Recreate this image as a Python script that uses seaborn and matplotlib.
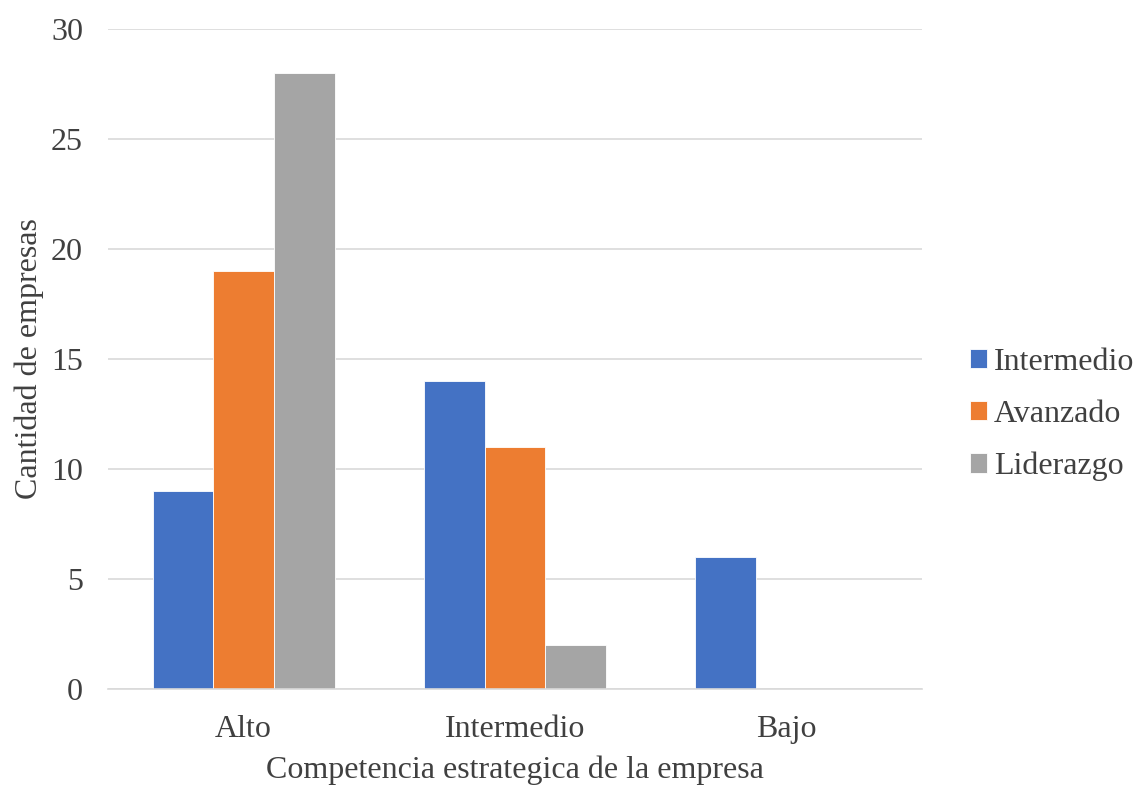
import pandas as pd
import matplotlib.pyplot as plt
import seaborn as sns

# Datos del gráfico
categorias = ["Alto", "Intermedio", "Bajo"]
series = ["Intermedio", "Avanzado", "Liderazgo"]
val_intermedio = [9, 14, 6]
val_avanzado = [19, 11, 0]
val_liderazgo = [28, 2, 0]
colores = ["#4472C4", "#ED7D31", "#A5A5A5"]
ticks_y = [0, 5, 10, 15, 20, 25, 30]

df = pd.DataFrame({
    "categoria": categorias * 3,
    "serie": [s for s in series for _ in categorias],
    "valor": val_intermedio + val_avanzado + val_liderazgo,
})

sns.set_theme(style="white")
plt.rcParams["font.family"] = ["Liberation Serif", "DejaVu Serif"]

fig = plt.figure(figsize=(11.33, 7.87), dpi=100)
ax = fig.add_axes([0.0953, 0.1245, 0.7185, 0.8386])

sns.barplot(data=df, x="categoria", y="valor", hue="serie", order=categorias,
            hue_order=series, palette=colores, width=0.67, gap=0,
            saturation=1, linewidth=0.6, edgecolor="white", ax=ax)

ax.set_ylim(0, 30)
ax.set_yticks(ticks_y)
ax.yaxis.grid(True, color="#D9D9D9", linewidth=1.2)
ax.set_axisbelow(True)
for s in ["top", "right", "left"]:
    ax.spines[s].set_visible(False)
ax.spines["bottom"].set_color("#D9D9D9")
ax.spines["bottom"].set_linewidth(1.2)
ax.tick_params(axis="both", length=0, labelsize=23, colors="#404040")
ax.tick_params(axis="y", pad=18)
ax.tick_params(axis="x", pad=19)

ax.set_xlabel("Competencia estrategica de la empresa", fontsize=23, color="#404040", labelpad=8)
ax.set_ylabel("Cantidad de empresas", fontsize=23, color="#404040", labelpad=5)

ax.legend(loc="center left", bbox_to_anchor=(1.039, 0.416), frameon=False,
          fontsize=23, labelcolor="#404040", handlelength=0.55, handleheight=0.55,
          handletextpad=0.2, labelspacing=0.72, borderpad=0)

fig.savefig("out.png", dpi=100)
